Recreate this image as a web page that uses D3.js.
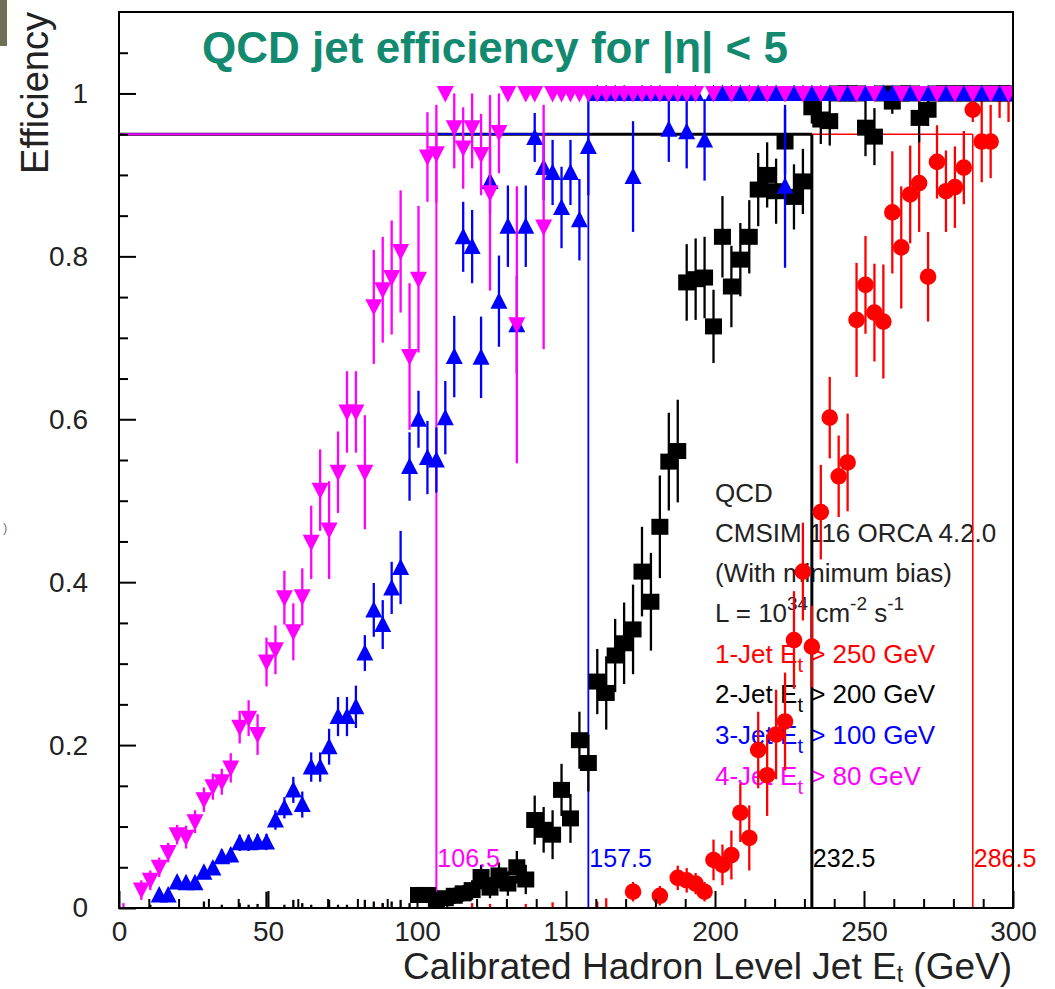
<!DOCTYPE html>
<html><head><meta charset="utf-8">
<script src="https://cdn.jsdelivr.net/npm/d3@7"></script>
<style>
body{margin:0;background:#fff;}
svg{display:block;font-family:"Liberation Sans",Arial,Helvetica,sans-serif;}
</style>
</head><body>
<svg id="c" width="1055" height="989"></svg>
<script>
// ---------- DATA: [Et (GeV), efficiency, error] ----------
const jet1 = [ // 1-Jet Et > 250 GeV (red)
 [88.5,0,0.006],[118.5,0,0.006],[124.5,0,0.005],[136.5,0,0.005],[145.5,0,0.007],[160.5,0,0.008],[163.5,0,0.012],
 [172.5,0.02,0.012],[181.5,0.015,0.012],[187.5,0.037,0.015],[190.5,0.034,0.015],[193.5,0.03,0.013],[196.5,0.02,0.012],
 [199.5,0.059,0.025],[202.5,0.053,0.025],[205.5,0.065,0.03],[208.5,0.117,0.036],[211.5,0.086,0.04],[214.5,0.194,0.047],
 [217.5,0.163,0.05],[220.5,0.213,0.055],[223.5,0.229,0.06],[226.5,0.329,0.06],[229.5,0.413,0.06],[232.5,0.321,0.05],
 [235.5,0.486,0.058],[238.5,0.602,0.05],[241.5,0.53,0.05],[244.5,0.547,0.06],[247.5,0.722,0.07],[250.5,0.765,0.06],
 [253.5,0.731,0.06],[256.5,0.72,0.07],[259.5,0.854,0.075],[262.5,0.811,0.075],[265.5,0.876,0.06],[268.5,0.89,0.06],
 [271.5,0.775,0.055],[274.5,0.916,0.045],[277.5,0.88,0.05],[280.5,0.885,0.05],[283.5,0.909,0.045],[286.5,0.98,0.015],
 [289.5,0.941,0.05],[292.5,0.941,0.045],[295.5,1,0.03],[298.5,1,0.035]
];
const jet2 = [ // 2-Jet Et > 200 GeV (black)
 [10.5,0,0.004],[28.5,0,0.008],[34.5,0,0.004],[40.5,0,0.006],[43.5,0,0.004],[46.5,0,0.005],[49.5,0,0.02],[55.5,0,0.004],
 [58.5,0,0.01],[61.5,0,0.006],[64.5,0,0.004],[70.5,0,0.01],[73.5,0,0.004],[76.5,0,0.004],[82.5,0,0.01],[85.5,0,0.008],
 [88.5,0,0.006],[91.5,0,0.008],[94.5,0,0.01],[97.5,0,0.006],
 [100.5,0.016,0.008],[103.5,0.016,0.008],[106.5,0.01,0.008],[109.5,0.012,0.008],[112.5,0.015,0.01],[115.5,0.018,0.01],
 [118.5,0.022,0.012],[121.5,0.038,0.015],[124.5,0.025,0.013],[127.5,0.04,0.016],[130.5,0.03,0.015],[133.5,0.05,0.02],
 [136.5,0.035,0.018],[139.5,0.108,0.03],[142.5,0.096,0.028],[145.5,0.09,0.03],[148.5,0.145,0.032],[151.5,0.11,0.03],
 [154.5,0.206,0.035],[157.5,0.178,0.035],[160.5,0.278,0.04],[163.5,0.264,0.045],[166.5,0.31,0.045],[169.5,0.325,0.05],
 [172.5,0.342,0.055],[175.5,0.413,0.055],[178.5,0.376,0.06],[181.5,0.468,0.063],[184.5,0.548,0.06],[187.5,0.561,0.063],
 [190.5,0.768,0.047],[193.5,0.772,0.05],[196.5,0.774,0.05],[199.5,0.714,0.045],[202.5,0.824,0.05],[205.5,0.763,0.05],
 [208.5,0.796,0.045],[211.5,0.824,0.045],[214.5,0.882,0.045],[217.5,0.9,0.04],[220.5,0.88,0.04],[223.5,0.941,0.04],
 [226.5,0.873,0.04],[229.5,0.892,0.04],[232.5,0.983,0.02],[235.5,0.968,0.03],[238.5,0.966,0.03],[241.5,1,0],[244.5,1,0],
 [247.5,1,0],[250.5,0.958,0.035],[253.5,0.947,0.035],[256.5,1,0],[259.5,0.99,0.015],[262.5,1,0],[265.5,1,0],
 [268.5,0.97,0.03],[271.5,0.98,0.02],[274.5,1,0],[277.5,1,0],[280.5,1,0],[283.5,1,0],[286.5,1,0],[289.5,1,0],
 [292.5,1,0],[295.5,1,0],[298.5,1,0]
];
const jet3 = [ // 3-Jet Et > 100 GeV (blue)
 [13.5,0.016,0.006],[16.5,0.016,0.006],[19.5,0.032,0.007],[22.5,0.031,0.007],[25.5,0.031,0.007],[28.5,0.044,0.008],
 [31.5,0.049,0.008],[34.5,0.063,0.009],[37.5,0.065,0.009],[40.5,0.08,0.01],[43.5,0.08,0.01],[46.5,0.081,0.01],
 [49.5,0.081,0.01],[52.5,0.108,0.012],[55.5,0.123,0.013],[58.5,0.145,0.016],[61.5,0.127,0.016],[64.5,0.173,0.018],
 [67.5,0.173,0.018],[70.5,0.198,0.022],[73.5,0.235,0.024],[76.5,0.235,0.024],[79.5,0.247,0.026],[82.5,0.313,0.022],
 [85.5,0.366,0.033],[88.5,0.348,0.03],[91.5,0.393,0.032],[94.5,0.418,0.045],[97.5,0.542,0.042],[100.5,0.6,0.035],
 [103.5,0.553,0.045],[106.5,0.55,0.04],[109.5,0.602,0.045],[112.5,0.677,0.05],[115.5,0.824,0.043],[118.5,0.812,0.045],
 [121.5,0.676,0.05],[124.5,0.892,0.04],[127.5,0.745,0.056],[130.5,0.837,0.05],[133.5,0.716,0.06],[136.5,0.837,0.05],
 [139.5,0.946,0.03],[142.5,0.909,0.04],[145.5,0.903,0.04],[148.5,0.86,0.05],[151.5,0.903,0.04],[154.5,0.845,0.05],
 [157.5,0.935,0.06],[160.5,1,0],[163.5,1,0],[166.5,1,0],[169.5,1,0],[172.5,0.898,0.068],[175.5,1,0],[178.5,1,0],
 [181.5,1,0],[184.5,0.956,0.04],[187.5,1,0],[190.5,0.953,0.045],[193.5,1,0],[196.5,0.943,0.05],[199.5,1,0],
 [202.5,1,0],[205.5,1,0],[208.5,1,0],[211.5,1,0],[214.5,1,0],[217.5,1,0],[220.5,1,0],[223.5,0.886,0.1],[226.5,1,0],
 [229.5,1,0],[232.5,1,0],[235.5,1,0],[238.5,1,0],[241.5,1,0],[244.5,1,0],[247.5,1,0],[250.5,1,0],[253.5,1,0],
 [256.5,1,0],[259.5,1,0],[262.5,1,0],[265.5,1,0],[268.5,1,0],[271.5,1,0],[274.5,1,0],[277.5,1,0],[280.5,1,0],
 [283.5,1,0],[286.5,1,0],[289.5,1,0],[292.5,1,0],[295.5,1,0],[298.5,1,0]
];
const jet4 = [ // 4-Jet Et > 80 GeV (magenta)
 [1.5,0,0.006],[7.5,0.022,0.012],[10.5,0.034,0.012],[13.5,0.05,0.012],[16.5,0.068,0.012],[19.5,0.09,0.012],
 [22.5,0.087,0.014],[25.5,0.106,0.014],[28.5,0.133,0.015],[31.5,0.149,0.016],[34.5,0.155,0.016],[37.5,0.172,0.018],
 [40.5,0.222,0.02],[43.5,0.233,0.022],[46.5,0.213,0.025],[49.5,0.302,0.03],[52.5,0.317,0.03],[55.5,0.381,0.033],
 [58.5,0.339,0.035],[61.5,0.382,0.035],[64.5,0.449,0.045],[67.5,0.513,0.05],[70.5,0.464,0.06],[73.5,0.535,0.05],
 [76.5,0.609,0.05],[79.5,0.609,0.05],[82.5,0.535,0.07],[85.5,0.738,0.07],[88.5,0.759,0.065],[91.5,0.774,0.07],
 [94.5,0.806,0.075],[97.5,0.677,0.09],[100.5,0.772,0.09],[103.5,0.922,0.055],[106.5,0.926,0.06],[109.5,1,0],
 [112.5,0.958,0.05],[115.5,0.933,0.05],[118.5,0.958,0.05],[121.5,0.925,0.05],[124.5,0.878,0.12],[127.5,0.952,0.05],
 [130.5,1,0],[133.5,0.716,0.17],[136.5,1,0],[139.5,1,0],[142.5,0.836,0.15],[145.5,1,0],[148.5,1,0],[151.5,1,0],
 [154.5,1,0],[157.5,1,0],[160.5,1,0],[163.5,1,0],[166.5,1,0],[169.5,1,0],[172.5,1,0],[175.5,1,0],[178.5,1,0],
 [181.5,1,0],[184.5,1,0],[187.5,1,0],[190.5,1,0],[193.5,1,0],[199.5,1,0],[205.5,1,0],[211.5,1,0],[217.5,1,0],
 [223.5,1,0],[229.5,1,0],[235.5,1,0],[241.5,1,0],[247.5,1,0],[253.5,1,0],[262.5,1,0],[268.5,1,0],[274.5,1,0],
 [280.5,1,0],[286.5,1,0],[292.5,1,0],[298.5,1,0]
];
const thresholdValues = [286.5, 232.5, 157.5, 106.5];   // 95% efficiency points (1,2,3,4-jet)
const thresholdLevel = 0.95;
const thresholdLabels = ["286.5", "232.5", "157.5", "106.5"];
const xTickValues = [0, 50, 100, 150, 200, 250, 300];
const yTickValues = [0, 0.2, 0.4, 0.6, 0.8, 1];
const yTickLabels = ["0", "0.2", "0.4", "0.6", "0.8", "1"];
const infoLines = ["QCD", "CMSIM 116 ORCA 4.2.0", "(With minimum bias)"];
const jetNames = ["1-Jet", "2-Jet", "3-Jet", "4-Jet"];
const jetCuts = ["250", "200", "100", "80"];

// ---------- STYLE ----------
const colors = ["#ff0000", "#000000", "#0000ff", "#ff00ff"];
const shapes = ["circle", "square", "up", "down"];
const thrWidths = [1.6, 3, 1.8, 2];

const svg = d3.select("#c");
const x = d3.scaleLinear().domain([0, 300]).range([119, 1013]);
const y = d3.scaleLinear().domain([0, 1.1]).range([908, 12]);

svg.append("rect").attr("width", 1055).attr("height", 989).attr("fill", "#fff");
svg.append("rect").attr("x", 0).attr("y", 0).attr("width", 7).attr("height", 46).attr("fill", "#6f6f56");
svg.append("text").attr("x", 3).attr("y", 532).attr("font-size", 13).attr("fill", "#777").text(")");

svg.append("defs").append("clipPath").attr("id", "pa")
  .append("rect").attr("x", 119).attr("y", 12).attr("width", 894).attr("height", 896);

// title
svg.append("text").attr("x", 202).attr("y", 63)
  .attr("font-size", 44).attr("font-weight", "bold").attr("fill", "#138a6f")
  .attr("textLength", 586).attr("lengthAdjust", "spacingAndGlyphs")
  .text("QCD jet efficiency for |η| < 5");

// info / legend text
const lx = 715, lbase = [502, 542, 582, 622, 663, 703, 744, 785];
infoLines.forEach((t, i) => {
  svg.append("text").attr("x", lx).attr("y", lbase[i]).attr("font-size", 26).attr("fill", "#222").text(t);
});
{
  const t = svg.append("text").attr("x", lx).attr("y", lbase[3]).attr("font-size", 26).attr("fill", "#222");
  t.append("tspan").text("L = 10");
  t.append("tspan").attr("font-size", 19).attr("dy", -12).text("34");
  t.append("tspan").attr("dy", 12).text(" cm");
  t.append("tspan").attr("font-size", 19).attr("dy", -12).text("-2");
  t.append("tspan").attr("dy", 12).text(" s");
  t.append("tspan").attr("font-size", 19).attr("dy", -12).text("-1");
}
jetNames.forEach((n, i) => {
  const t = svg.append("text").attr("x", lx).attr("y", lbase[4 + i]).attr("font-size", 26).attr("fill", colors[i]);
  t.append("tspan").text(n + " E");
  t.append("tspan").attr("font-size", 20).attr("dy", 9).text("t");
  t.append("tspan").attr("dy", -9).text(" > " + jetCuts[i] + " GeV");
});

// threshold lines
const gp = svg.append("g").attr("clip-path", "url(#pa)");
thresholdValues.forEach((v, i) => {
  gp.append("line").attr("x1", x(0)).attr("x2", x(v)).attr("y1", y(thresholdLevel)).attr("y2", y(thresholdLevel))
    .attr("stroke", colors[i]).attr("stroke-width", thrWidths[i]);
  gp.append("line").attr("x1", x(v)).attr("x2", x(v)).attr("y1", y(0)).attr("y2", y(thresholdLevel))
    .attr("stroke", colors[i]).attr("stroke-width", thrWidths[i]);
  svg.append("text").attr("x", x(v) + 1).attr("y", 867).attr("font-size", 25).attr("fill", colors[i]).text(thresholdLabels[i]);
});

// data series
function markerPath(shape, cx, cy) {
  if (shape === "up") return `M${cx - 8.5},${cy + 7.5}L${cx + 8.5},${cy + 7.5}L${cx},${cy - 9}Z`;
  if (shape === "down") return `M${cx - 8.5},${cy - 7.5}L${cx + 8.5},${cy - 7.5}L${cx},${cy + 9}Z`;
  if (shape === "square") return `M${cx - 8.5},${cy - 8}h17v16h-17Z`;
  return `M${cx - 8.3},${cy}a8.3,8.3 0 1,0 16.6,0a8.3,8.3 0 1,0 -16.6,0Z`;
}
[jet1, jet2, jet3, jet4].forEach((data, i) => {
  const g = gp.append("g");
  g.selectAll("line.err").data(data.filter(d => d[2] > 0)).join("line")
    .attr("x1", d => x(d[0])).attr("x2", d => x(d[0]))
    .attr("y1", d => y(Math.max(0, d[1] - d[2]))).attr("y2", d => y(Math.min(1, d[1] + d[2])))
    .attr("stroke", colors[i]).attr("stroke-width", 2.3);
  g.selectAll("path.m").data(data.filter(d => d[1] > 0)).join("path")
    .attr("d", d => markerPath(shapes[i], x(d[0]), y(d[1])))
    .attr("fill", colors[i]);
});

// axes
const ax = svg.append("g").attr("transform", "translate(0,908)")
  .call(d3.axisBottom(x).tickValues(xTickValues).tickSize(-17).tickPadding(13).tickFormat(d3.format("d")));
const axm = svg.append("g").attr("transform", "translate(0,908)")
  .call(d3.axisBottom(x).tickValues(d3.range(10, 300, 10).filter(v => v % 50 !== 0)).tickSize(-9).tickFormat(""));
const ay = svg.append("g").attr("transform", "translate(119,0)")
  .call(d3.axisLeft(y).tickValues(yTickValues).tickSize(-17).tickPadding(31).tickFormat((d, i) => yTickLabels[i]));
const aym = svg.append("g").attr("transform", "translate(119,0)")
  .call(d3.axisLeft(y).tickValues(d3.range(1, 22).filter(k => k % 4 !== 0).map(k => k * 0.05)).tickSize(-9).tickFormat(""));
[ax, axm, ay, aym].forEach(a => {
  a.select(".domain").remove();
  a.selectAll(".tick line").attr("stroke", "#000").attr("stroke-width", 2);
  a.selectAll("text").attr("font-size", 28).attr("fill", "#222")
    .attr("font-family", "'Liberation Sans',Arial,sans-serif");
});

// frame
svg.append("rect").attr("x", 119).attr("y", 12).attr("width", 894).attr("height", 896)
  .attr("fill", "none").attr("stroke", "#000").attr("stroke-width", 2);

// axis titles
{
  const t = svg.append("text").attr("x", 1012).attr("y", 979).attr("text-anchor", "end")
    .attr("font-size", 37).attr("fill", "#222");
  t.append("tspan").text("Calibrated Hadron Level Jet E");
  t.append("tspan").attr("font-size", 23).attr("dy", 3).text("t");
  t.append("tspan").attr("dy", -3).text(" (GeV)");
}
svg.append("text").attr("transform", "translate(48,12) rotate(-90)").attr("text-anchor", "end")
  .attr("font-size", 38).attr("fill", "#222").text("Efficiency");
</script>
</body></html>
